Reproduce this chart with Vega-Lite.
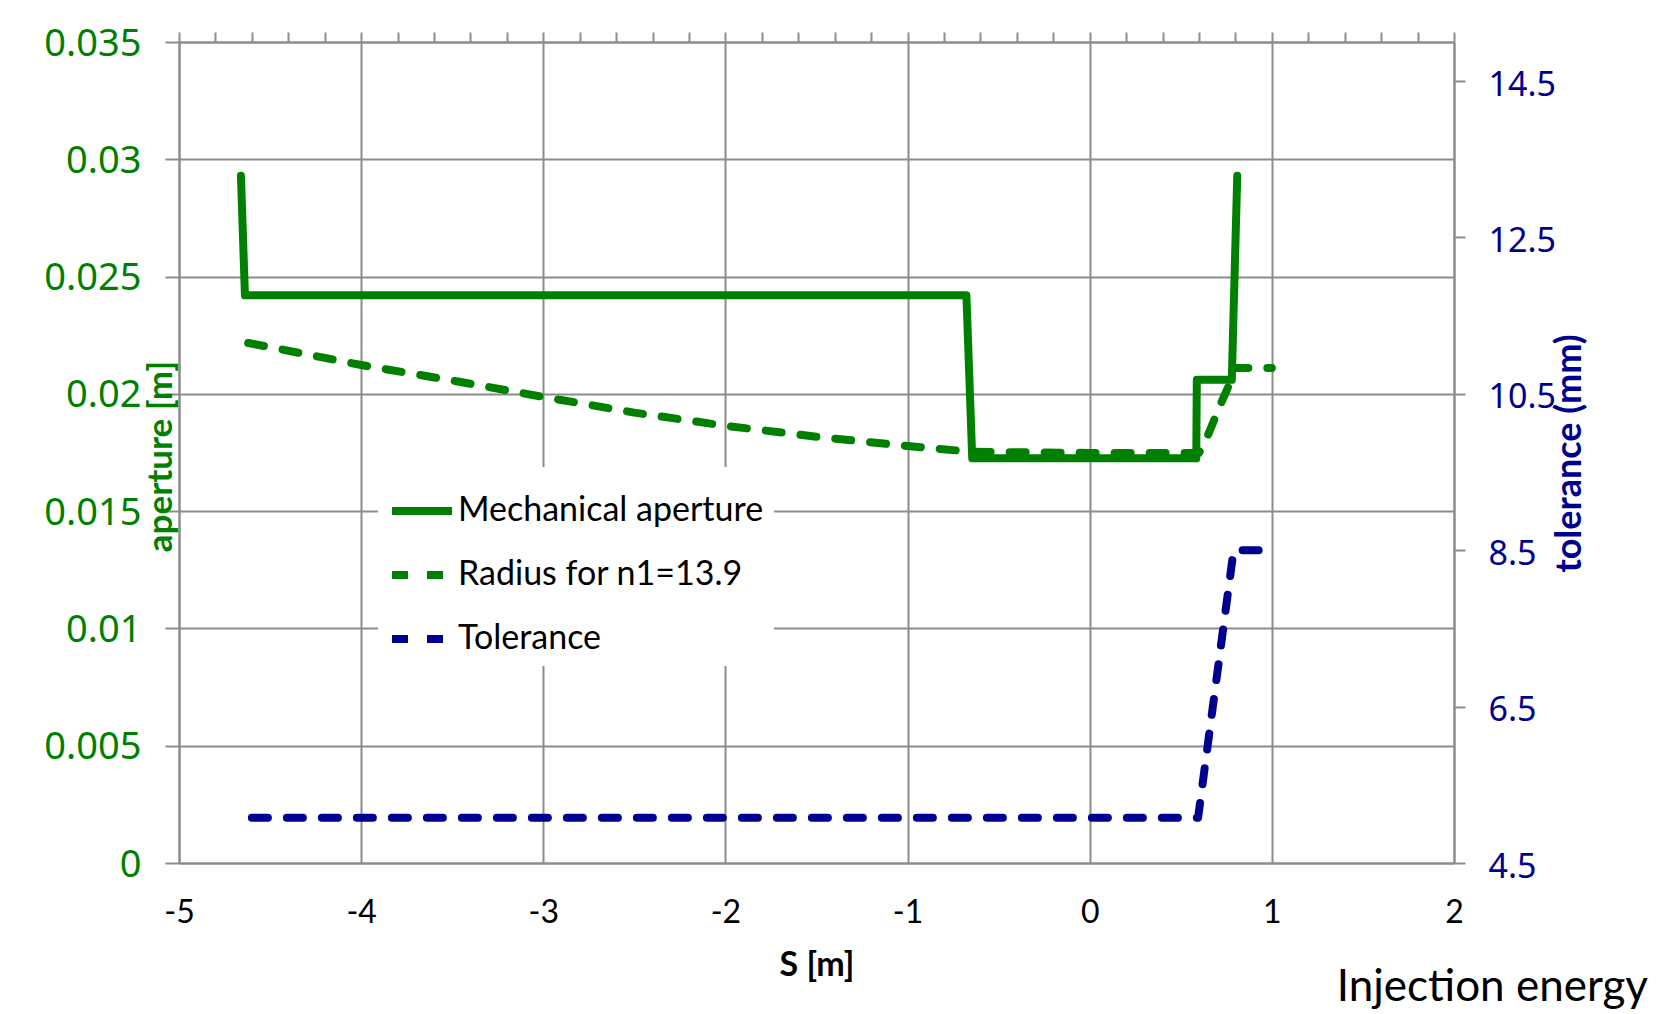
{
  "$schema": "https://vega.github.io/schema/vega-lite/v6.json",
  "width": 1275,
  "height": 821,
  "autosize": {"type": "none"},
  "padding": {"left": 179, "top": 42, "right": 211, "bottom": 151},
  "background": "white",
  "title": {"text": "Injection energy", "orient": "bottom", "anchor": "end", "frame": "group", "font": "Lato", "fontSize": 44, "fontWeight": "normal", "color": "black", "dx": 194, "dy": -16, "offset": 0},
  "config": {
    "view": {"stroke": null},
    "axis": {"domainColor": "#8c8c8c", "domainWidth": 2, "gridColor": "#8c8c8c", "gridWidth": 2, "gridOpacity": 1, "tickColor": "#8c8c8c", "tickWidth": 2},
    "legend": {"orient": "none", "legendX": 199, "legendY": 425, "title": null, "fillColor": "white", "padding": 10, "symbolType": "stroke", "symbolSize": 3600, "symbolStrokeWidth": 8, "labelFont": "Lato", "labelFontSize": 34, "labelColor": "black", "labelOffset": 2, "rowPadding": 13, "labelLimit": 600}
  },
  "datasets": {
    "ap": [
      {"i": 1, "s": -4.66, "v": 0.0293, "series": "Mechanical aperture"},
      {"i": 2, "s": -4.638, "v": 0.0242, "series": "Mechanical aperture"},
      {"i": 3, "s": -0.677, "v": 0.0242, "series": "Mechanical aperture"},
      {"i": 4, "s": -0.645, "v": 0.01725, "series": "Mechanical aperture"},
      {"i": 5, "s": 0.585, "v": 0.01725, "series": "Mechanical aperture"},
      {"i": 6, "s": 0.588, "v": 0.0206, "series": "Mechanical aperture"},
      {"i": 7, "s": 0.78, "v": 0.0206, "series": "Mechanical aperture"},
      {"i": 8, "s": 0.81, "v": 0.0293, "series": "Mechanical aperture"},
      {"i": 1, "s": -4.62, "v": 0.02217, "series": "Radius for n1=13.9"},
      {"i": 2, "s": -4.0, "v": 0.02123, "series": "Radius for n1=13.9"},
      {"i": 3, "s": -3.5, "v": 0.02057, "series": "Radius for n1=13.9"},
      {"i": 4, "s": -3.0, "v": 0.01987, "series": "Radius for n1=13.9"},
      {"i": 5, "s": -2.5, "v": 0.01920, "series": "Radius for n1=13.9"},
      {"i": 6, "s": -2.0, "v": 0.01864, "series": "Radius for n1=13.9"},
      {"i": 7, "s": -1.5, "v": 0.01817, "series": "Radius for n1=13.9"},
      {"i": 8, "s": -1.0, "v": 0.01778, "series": "Radius for n1=13.9"},
      {"i": 9, "s": -0.65, "v": 0.01753, "series": "Radius for n1=13.9"},
      {"i": 10, "s": 0.0, "v": 0.01748, "series": "Radius for n1=13.9"},
      {"i": 11, "s": 0.6, "v": 0.01748, "series": "Radius for n1=13.9"},
      {"i": 12, "s": 0.645, "v": 0.01816, "series": "Radius for n1=13.9"},
      {"i": 13, "s": 0.717, "v": 0.01953, "series": "Radius for n1=13.9"},
      {"i": 14, "s": 0.76, "v": 0.02029, "series": "Radius for n1=13.9"},
      {"i": 15, "s": 0.79, "v": 0.0211, "series": "Radius for n1=13.9"},
      {"i": 16, "s": 1.0, "v": 0.0211, "series": "Radius for n1=13.9"}
    ],
    "tol": [
      {"i": 1, "s": -4.6, "v": 5.08, "series": "Tolerance"},
      {"i": 2, "s": 0.595, "v": 5.08, "series": "Tolerance"},
      {"i": 3, "s": 0.79, "v": 8.5, "series": "Tolerance"},
      {"i": 4, "s": 1.0, "v": 8.5, "series": "Tolerance"}
    ]
  },
  "layer": [
    {
      "data": {"name": "ap"},
      "mark": {"type": "line", "strokeWidth": 8, "strokeCap": "round", "strokeJoin": "round"},
      "encoding": {
        "x": {
          "field": "s", "type": "quantitative",
          "scale": {"domain": [-5, 2], "nice": false, "zero": false},
          "axis": {"orient": "bottom", "values": [-5, -4, -3, -2, -1, 0, 1, 2], "labelExpr": "'' + datum.value", "labelFlush": false, "ticks": false, "grid": true, "labelFont": "Lato", "labelFontSize": 32, "labelColor": "black", "labelPadding": 34, "title": "S [m]", "titleFont": "Lato", "titleFontSize": 34, "titleFontWeight": "bold", "titleColor": "black", "titlePadding": 20}
        },
        "y": {
          "field": "v", "type": "quantitative",
          "scale": {"domain": [0, 0.035], "nice": false, "zero": false},
          "axis": {"orient": "left", "values": [0, 0.005, 0.01, 0.015, 0.02, 0.025, 0.03, 0.035], "labelExpr": "'' + datum.value", "grid": true, "tickSize": 14, "labelFont": "Noto Sans", "labelFontSize": 38, "labelColor": "#008000", "labelPadding": 24, "labelOffset": 2, "title": "aperture [m]", "titleFont": "Lato", "titleFontSize": 35, "titleFontWeight": "bold", "titleColor": "#008000", "titleAngle": -90, "titleX": -19, "titleY": 414, "titleAlign": "center", "titleBaseline": "middle"}
        },
        "order": {"field": "i", "type": "quantitative"},
        "color": {
          "field": "series", "type": "nominal",
          "scale": {"domain": ["Mechanical aperture", "Radius for n1=13.9", "Tolerance"], "range": ["#008000", "#008000", "#000090"]}
        },
        "strokeDash": {
          "field": "series", "type": "nominal",
          "scale": {"domain": ["Mechanical aperture", "Radius for n1=13.9", "Tolerance"], "range": [[1, 0], [16, 19], [16, 19]]}
        }
      }
    },
    {
      "data": {"name": "tol"},
      "mark": {"type": "line", "strokeWidth": 8, "strokeCap": "round", "strokeJoin": "round"},
      "encoding": {
        "x": {
          "field": "s", "type": "quantitative",
          "scale": {"domain": [-5, 2], "nice": false, "zero": false},
          "axis": {"orient": "top", "values": [-5, -4.8, -4.6, -4.4, -4.2, -4, -3.8, -3.6, -3.4, -3.2, -3, -2.8, -2.6, -2.4, -2.2, -2, -1.8, -1.6, -1.4, -1.2, -1, -0.8, -0.6, -0.4, -0.2, 0, 0.2, 0.4, 0.6, 0.8, 1, 1.2, 1.4, 1.6, 1.8, 2], "labels": false, "grid": false, "tickSize": 10, "title": null}
        },
        "y": {
          "field": "v", "type": "quantitative",
          "scale": {"domain": [4.5, 15], "nice": false, "zero": false},
          "axis": {"orient": "right", "values": [4.5, 6.5, 8.5, 10.5, 12.5, 14.5], "labelExpr": "'' + datum.value", "grid": false, "tickSize": 11, "labelFont": "Noto Sans", "labelFontSize": 34, "labelColor": "#000090", "labelPadding": 23, "labelOffset": 4, "title": "tolerance (mm)", "titleFont": "Lato", "titleFontSize": 36, "titleFontWeight": "bold", "titleColor": "#000090", "titleAngle": 270, "titleX": 115, "titleY": 411, "titleAlign": "center", "titleBaseline": "middle"}
        },
        "order": {"field": "i", "type": "quantitative"},
        "color": {
          "field": "series", "type": "nominal",
          "scale": {"domain": ["Mechanical aperture", "Radius for n1=13.9", "Tolerance"], "range": ["#008000", "#008000", "#000090"]}
        },
        "strokeDash": {
          "field": "series", "type": "nominal",
          "scale": {"domain": ["Mechanical aperture", "Radius for n1=13.9", "Tolerance"], "range": [[1, 0], [16, 19], [16, 19]]}
        }
      }
    }
  ],
  "resolve": {"scale": {"y": "independent"}, "axis": {"x": "independent"}}
}
